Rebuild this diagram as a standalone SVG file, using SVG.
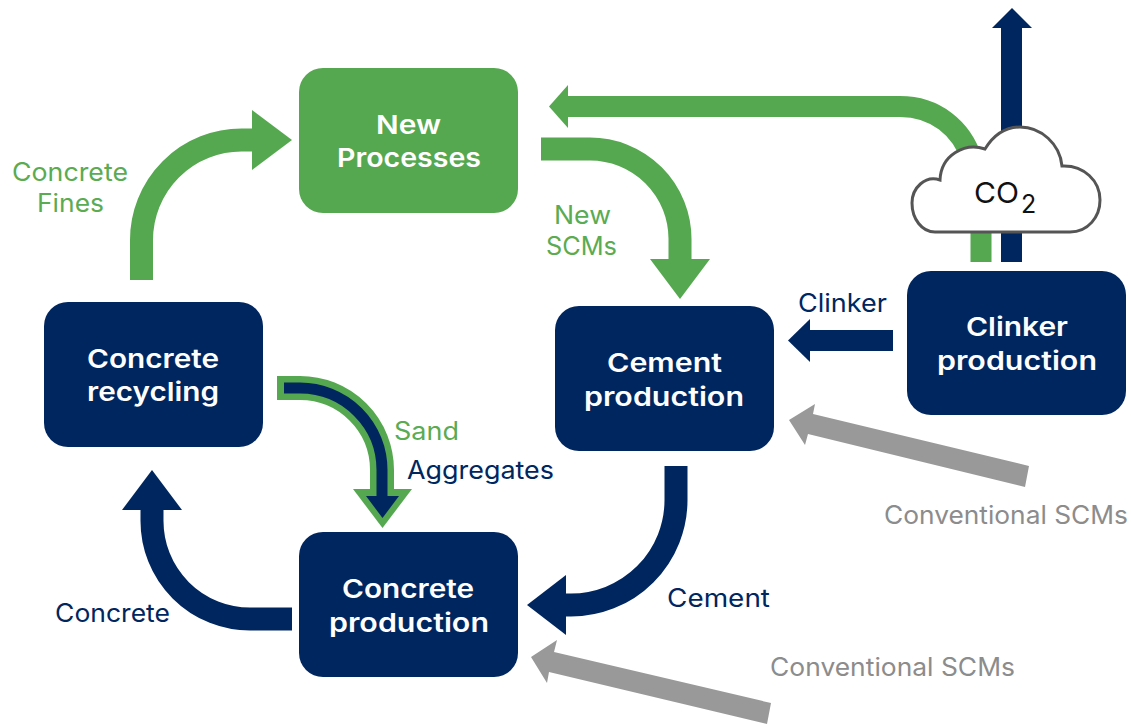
<svg xmlns="http://www.w3.org/2000/svg" width="1131" height="724" viewBox="0 0 1131 724">
<style>
text{font-family:"Inter","Noto Sans","Liberation Sans",sans-serif}
.box{fill:#00265f}
.boxg{fill:#55a84f}
.t{font-size:26px;font-weight:600;fill:#fff;text-anchor:start}
.l{font-size:25px;font-weight:400}
.lg{fill:#5aab52}.ln{fill:#00265f}.lh{fill:#8c8c8c}
.a{fill:none;stroke-width:23}
.ag{stroke:#55a84f}.an{stroke:#00265f}
.fg{fill:#55a84f}.fn{fill:#00265f}.fh{fill:#999}
</style>
<rect width="1131" height="724" fill="#fff"/>
<g id="connectors">
<path class="a ag" d="M141.500 280V240A100 100 0 0 1 241.500 140H256"/><polygon class="fg" points="252,110 292,140 252,170"/>
<path class="a ag" d="M541 149H590A90 90 0 0 1 680 239V264"/><polygon class="fg" points="650,259 710,259 680,299"/>
<path class="a an" style="stroke-width:21" d="M1011.500 262V25"/><polygon class="fn" points="992,28 1012,8 1032,28"/>
<path class="a ag" style="stroke-width:21" d="M981 262V200"/>
<path class="a ag" style="stroke-width:21" d="M972 160C962 128 935 106.500 900 106.500H560"/><polygon class="fg" points="568,85 568,128 549,106.500"/>
<path class="a an" style="stroke-width:21" d="M893 340.500H805"/><polygon class="fn" points="810,319 810,362 788,340.500"/>
<polygon class="fh" points="789,420 815,404 813,414 1029,466 1025,487 808,434 805,445"/>
<polygon class="fh" points="531,657 557,640 554,652 771,703 767,724 549,672 547,683"/>
<path class="a an" d="M676 466V500A105 105 0 0 1 571 605H560"/><polygon class="fn" points="566,575 566,635 527,605"/>
<path class="a an" d="M292 619H250A98 98 0 0 1 152 521V505"/><polygon class="fn" points="122,510 182,510 152,470"/>
<path class="a ag" style="stroke-width:24" d="M277 388H300A82 82 0 0 1 382 470V495"/><polygon class="fg" points="353,489 412,489 382.500,528"/>
<path class="a an" style="stroke-width:11" d="M284 388H300A82 82 0 0 1 382 470V500"/><polygon class="fn" points="366,496 399,496 382.500,518"/>
</g>
<g id="co2-cloud">
<path d="M935 232H1070C1088 232 1100 217 1100 200C1100 181 1084 165 1062 166C1060 144 1041 127 1020 127C1005 127 993 136 985 149C965 142 941 155 940 180C925 175 912 188 912 203C912 219 922 232 935 232Z" fill="#fff" stroke="#555" stroke-width="3"/>
<text x="974" y="203" font-size="29" fill="#111" textLength="45" lengthAdjust="spacingAndGlyphs">CO</text>
<text x="1021" y="213" font-size="25" fill="#111">2</text>
</g>
<g id="new-processes"><rect class="boxg" x="299" y="68" width="219" height="145" rx="24"/>
<text class="t" x="376" y="134" textLength="65" lengthAdjust="spacingAndGlyphs">New</text><text class="t" x="337" y="167" textLength="144" lengthAdjust="spacingAndGlyphs">Processes</text></g>
<g id="cement-production"><rect class="box" x="555" y="306" width="219" height="145" rx="24"/>
<text class="t" x="607" y="372" textLength="115" lengthAdjust="spacingAndGlyphs">Cement</text><text class="t" x="584" y="406" textLength="160" lengthAdjust="spacingAndGlyphs">production</text></g>
<g id="clinker-production"><rect class="box" x="907" y="271" width="219" height="144" rx="24"/>
<text class="t" x="966" y="336" textLength="102" lengthAdjust="spacingAndGlyphs">Clinker</text><text class="t" x="937" y="370" textLength="160" lengthAdjust="spacingAndGlyphs">production</text></g>
<g id="concrete-recycling"><rect class="box" x="44" y="302" width="219" height="145" rx="24"/>
<text class="t" x="87" y="368" textLength="132" lengthAdjust="spacingAndGlyphs">Concrete</text><text class="t" x="87" y="401" textLength="132" lengthAdjust="spacingAndGlyphs">recycling</text></g>
<g id="concrete-production"><rect class="box" x="299" y="532" width="219" height="145" rx="24"/>
<text class="t" x="342" y="598" textLength="132" lengthAdjust="spacingAndGlyphs">Concrete</text><text class="t" x="329" y="632" textLength="160" lengthAdjust="spacingAndGlyphs">production</text></g>
<g id="labels">
<text class="l lg" x="12" y="181" textLength="116" lengthAdjust="spacingAndGlyphs">Concrete</text>
<text class="l lg" x="37" y="212" textLength="67" lengthAdjust="spacingAndGlyphs">Fines</text>
<text class="l lg" x="554" y="224" textLength="57" lengthAdjust="spacingAndGlyphs">New</text>
<text class="l lg" x="546" y="255" textLength="71" lengthAdjust="spacingAndGlyphs">SCMs</text>
<text class="l ln" x="798" y="312" textLength="89" lengthAdjust="spacingAndGlyphs">Clinker</text>
<text class="l lg" x="394" y="440" textLength="65" lengthAdjust="spacingAndGlyphs">Sand</text>
<text class="l ln" x="407" y="479" textLength="147" lengthAdjust="spacingAndGlyphs">Aggregates</text>
<text class="l ln" x="667" y="607" textLength="103" lengthAdjust="spacingAndGlyphs">Cement</text>
<text class="l ln" x="55" y="622" textLength="115" lengthAdjust="spacingAndGlyphs">Concrete</text>
<text class="l lh" x="884" y="524" textLength="244" lengthAdjust="spacingAndGlyphs">Conventional SCMs</text>
<text class="l lh" x="770" y="676" textLength="245" lengthAdjust="spacingAndGlyphs">Conventional SCMs</text>
</g>
</svg>
